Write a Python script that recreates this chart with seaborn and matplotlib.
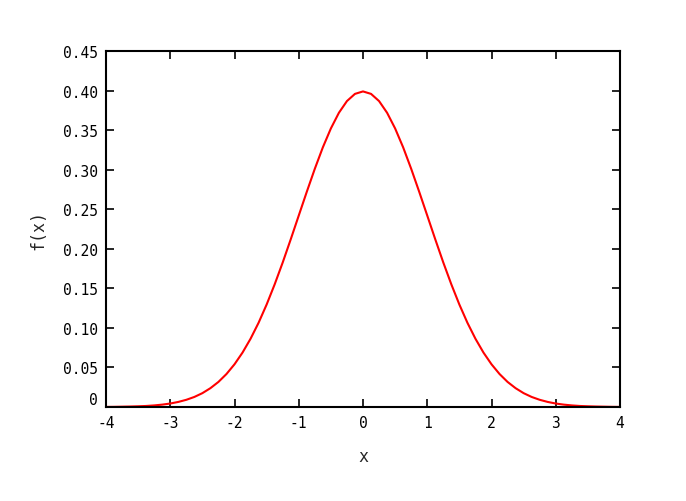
import matplotlib
matplotlib.use("Agg")
import matplotlib.pyplot as plt
import seaborn as sns
import pandas as pd

# values (symmetric about 0)
x_right = [0.0, 0.125, 0.25, 0.375, 0.5, 0.625, 0.75, 0.875, 1.0, 1.125, 1.25,
           1.375, 1.5, 1.625, 1.75, 1.875, 2.0, 2.125, 2.25, 2.375, 2.5, 2.625,
           2.75, 2.875, 3.0, 3.125, 3.25, 3.375, 3.5, 3.625, 3.75, 3.875, 4.0]
fx_right = [0.3989, 0.3958, 0.3867, 0.3719, 0.3521, 0.3282, 0.3011, 0.2720,
            0.2420, 0.2119, 0.1826, 0.1550, 0.1295, 0.1065, 0.0863, 0.0688,
            0.0540, 0.0417, 0.0317, 0.0238, 0.0175, 0.0127, 0.0091, 0.0064,
            0.0044, 0.0030, 0.0020, 0.0013, 0.0009, 0.0006, 0.0004, 0.0002, 0.0001]
x_vals = [-v for v in x_right[:0:-1]] + x_right
fx_vals = fx_right[:0:-1] + fx_right

x_ticks = [-4, -3, -2, -1, 0, 1, 2, 3, 4]
y_ticks = [0, 0.05, 0.10, 0.15, 0.20, 0.25, 0.30, 0.35, 0.40, 0.45]
y_tick_labels = ["0", "0.05", "0.10", "0.15", "0.20", "0.25", "0.30", "0.35", "0.40", "0.45"]

df = pd.DataFrame({"x": x_vals, "fx": fx_vals})

sns.set_style("ticks")
plt.rcParams["font.family"] = ["DejaVu Sans Mono"]

fig = plt.figure(figsize=(6.86, 5.02), dpi=100)
ax = fig.add_axes([106 / 686, 1 - 408 / 502, (620 - 106) / 686, (408 - 52) / 502])

sns.lineplot(data=df, x="x", y="fx", color="#ff0000", linewidth=1.5, ax=ax)

ax.set_xlim(-4, 4)
ax.set_ylim(0, 0.45)
ax.set_xticks(x_ticks)
ax.set_xticklabels([str(t) for t in x_ticks])
ax.set_yticks(y_ticks)
ax.set_yticklabels(y_tick_labels)

for side in ["top", "right", "left", "bottom"]:
    ax.spines[side].set_visible(True)
    ax.spines[side].set_linewidth(1.5)
    ax.spines[side].set_color("black")

ax.tick_params(direction="in", length=6, width=1.2, top=True, right=True,
               labelsize=10.5, colors="black", pad=6)
# gnuplot puts the zero label slightly above the axis
ax.get_yticklabels()[0].set_va("bottom")

ax.set_xlabel("x", fontsize=12, labelpad=12)
ax.set_ylabel("f(x)", fontsize=12, labelpad=11)

fig.savefig("out.png", dpi=100)
